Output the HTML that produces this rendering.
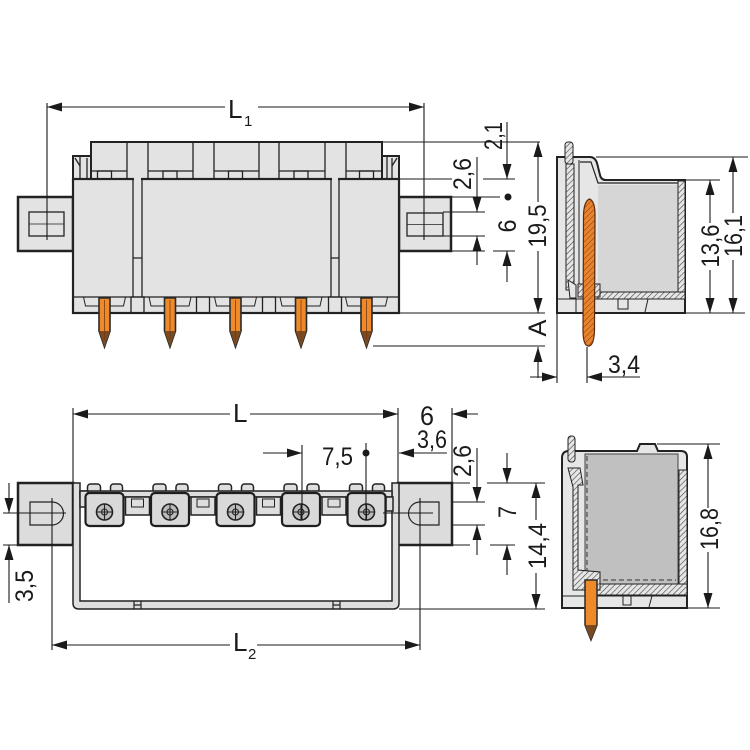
<!DOCTYPE html>
<html><head><meta charset="utf-8"><style>
html,body{margin:0;padding:0;background:#fff;}
svg{display:block;}
text{font-family:"Liberation Sans Narrow","Liberation Sans",sans-serif;fill:#1a1a1a;}
</style></head><body>
<svg width="750" height="750" viewBox="0 0 750 750" xmlns="http://www.w3.org/2000/svg">
<defs>
<marker id="a" markerWidth="16" markerHeight="10" refX="15" refY="4.5" orient="auto" markerUnits="userSpaceOnUse"><path d="M0,0 L15,4.5 L0,9 Z" fill="#1a1a1a"/></marker>
<pattern id="h" patternUnits="userSpaceOnUse" width="4" height="4" patternTransform="rotate(45)"><rect width="4" height="4" fill="#e6e6e6"/><line x1="0" y1="0" x2="0" y2="4" stroke="#444" stroke-width="1.2"/></pattern>
<pattern id="ho" patternUnits="userSpaceOnUse" width="4" height="4" patternTransform="rotate(45)"><rect width="4" height="4" fill="#e8832e"/><line x1="0" y1="0" x2="0" y2="4" stroke="#8a3a10" stroke-width="1"/></pattern>
</defs>

<!-- ================= TOP VIEW ================= -->
<g stroke="#222" fill="#e3e3e3">
<rect x="18" y="197" width="55" height="54" stroke-width="2.5"/>
<rect x="399" y="197" width="52" height="54" stroke-width="2.5"/>
<rect x="73" y="156" width="18" height="23" stroke-width="2"/>
<rect x="382" y="156" width="17" height="23" stroke-width="2"/>
<rect x="91" y="142" width="291" height="37" stroke-width="2"/>
<rect x="73" y="179" width="326" height="134" stroke-width="2.2"/>
</g>
<rect x="134" y="177" width="7" height="4" fill="#e3e3e3"/>
<rect x="332" y="177" width="6" height="4" fill="#e3e3e3"/>
<g stroke="#222" fill="none" stroke-width="1.3">
<rect x="29" y="212" width="35" height="24"/>
<line x1="29" y1="224" x2="64" y2="224" stroke-width="0.8"/>
<rect x="407" y="213" width="36" height="23"/>
<line x1="407" y1="224.5" x2="443" y2="224.5" stroke-width="0.8"/>
<line x1="80" y1="156" x2="80" y2="179"/><line x1="75" y1="158" x2="80" y2="166"/>
<line x1="87" y1="158" x2="87" y2="179"/>
<line x1="387" y1="156" x2="387" y2="179"/><line x1="392" y1="158" x2="392" y2="179"/><line x1="392" y1="166" x2="397" y2="158"/>
<path d="M127,142V179M148,142V179M193,142V179M214,142V179M259,142V179M279,142V179M325,142V179M346,142V179"/>
<path d="M91,171H127M148,171H193M214,171H259M279,171H325M346,171H382"/>
<rect x="97.5" y="171" width="14" height="8"/><rect x="163" y="171" width="14" height="8"/><rect x="228.5" y="171" width="14" height="8"/><rect x="294" y="171" width="14" height="8"/><rect x="359.5" y="171" width="14" height="8"/>
<path d="M133,179V297M142,179V297M133,258H142M331,179V297M339,179V297M331,258H339"/>
<line x1="73" y1="297" x2="399" y2="297"/>
<path stroke-width="1" d="M83.5,297 L85.5,306 H123.5 L125.5,297 M149,297 L151,306 H189 L191,297 M214.5,297 L216.5,306 H254.5 L256.5,297 M280,297 L282,306 H320 L322,297 M345.5,297 L347.5,306 H385.5 L387.5,297"/>
<rect x="131" y="297" width="13" height="16"/><rect x="196.5" y="297" width="13" height="16"/><rect x="262.5" y="297" width="13" height="16"/><rect x="328.5" y="297" width="13" height="16"/>
</g>
<!-- pins top view -->
<g stroke="#2a2a2a" stroke-width="1.6">
<path d="M99,298 V331 L104.5,347 L110,331 V298 Z" fill="#ee8a2a"/>
<path d="M164.5,298 V331 L170,347 L175.5,331 V298 Z" fill="#ee8a2a"/>
<path d="M230,298 V331 L235.5,347 L241,331 V298 Z" fill="#ee8a2a"/>
<path d="M295.5,298 V331 L301,347 L306.5,331 V298 Z" fill="#ee8a2a"/>
<path d="M361,298 V331 L366.5,347 L372,331 V298 Z" fill="#ee8a2a"/>
</g>
<g fill="#7a4a22" stroke="none">
<path d="M99,331 L104.5,347 L110,331 Z"/><path d="M164.5,331 L170,347 L175.5,331 Z"/><path d="M230,331 L235.5,347 L241,331 Z"/><path d="M295.5,331 L301,347 L306.5,331 Z"/><path d="M361,331 L366.5,347 L372,331 Z"/>
</g>
<g stroke="#7a3a10" stroke-width="0.8">
<path d="M104.5,300V340M170,300V340M235.5,300V340M301,300V340M366.5,300V340"/>
</g>

<!-- top side view -->
<path d="M557,157 H590 Q595,157 597,163 L600,175 Q601,180 606,180 H685 V313 H557 Z" fill="#e6e6e6" stroke="#222" stroke-width="2"/>
<rect x="598" y="185" width="80" height="108" fill="#d6d6d6"/>
<path d="M580,162 H591 L598,183 H678" fill="none" stroke="#222" stroke-width="1.2"/>
<rect x="678" y="181" width="7" height="118" fill="url(#h)" stroke="#222" stroke-width="1"/>
<rect x="598" y="292" width="87" height="7" fill="url(#h)" stroke="#222" stroke-width="1"/>
<rect x="565" y="142" width="8" height="22" rx="3" fill="url(#h)" stroke="#222" stroke-width="1"/>
<rect x="566" y="164" width="8" height="126" fill="url(#h)" stroke="#222" stroke-width="1"/>
<line x1="579" y1="160" x2="579" y2="285" stroke="#222" stroke-width="1"/>
<path d="M568,280 L576,285 V298 H570 Z" fill="#e6e6e6" stroke="#222" stroke-width="1"/>
<rect x="578" y="284" width="22" height="13" fill="url(#h)" stroke="#222" stroke-width="1"/>
<g stroke="#222" stroke-width="1" fill="none">
<line x1="557" y1="299" x2="685" y2="299"/>
<path d="M618,299 V309 H628 V299"/>
<line x1="648" y1="299" x2="645" y2="312"/>
<line x1="576" y1="299" x2="576" y2="313"/>
</g>
<path d="M589.5,199 Q595,201 595,215 L594.5,330 Q594,346 588.5,346 Q583,346 583,330 L583.5,215 Q584,201 589.5,199 Z" fill="url(#ho)" stroke="#5a2a0a" stroke-width="1.2"/>

<!-- ================= BOTTOM VIEW ================= -->
<g stroke="#222" fill="#dcdcdc">
<rect x="18" y="483" width="55" height="62" stroke-width="2.5"/>
<rect x="398" y="483" width="54" height="62" stroke-width="2.5"/>
<path d="M73,483 V603 Q73,609 79,609 H393 Q399,609 399,603 V483 H392 V601 H80 V483 Z" fill="#dedede" stroke-width="1.5"/>
</g>
<g stroke="#222" fill="none" stroke-width="1.2">
<path d="M30,502 H52 A11.5,11.5 0 0 1 52,525 H30 Z"/>
<path d="M439,502 H420 A11.5,11.5 0 0 0 420,525 H439 Z"/>
<path d="M134,601V609M141,601V609M134,605H141M333,601V609M340,601V609M333,605H340"/>
</g>
<!-- bumps -->
<g fill="#dedede" stroke="#222" stroke-width="1.5">
<rect x="87.5" y="484" width="13" height="9" rx="3"/><rect x="110.5" y="484" width="12" height="9" rx="3"/>
<rect x="153" y="484" width="13" height="9" rx="3"/><rect x="176" y="484" width="12" height="9" rx="3"/>
<rect x="218.5" y="484" width="13" height="9" rx="3"/><rect x="241.5" y="484" width="12" height="9" rx="3"/>
<rect x="284" y="484" width="13" height="9" rx="3"/><rect x="307" y="484" width="12" height="9" rx="3"/>
<rect x="349.5" y="484" width="13" height="9" rx="3"/><rect x="372.5" y="484" width="12" height="9" rx="3"/>
<rect x="80" y="491" width="312" height="6"/>
<rect x="80" y="491" width="8" height="16"/>
<rect x="125.5" y="497" width="24" height="18"/><rect x="191" y="497" width="24" height="18"/><rect x="256.5" y="497" width="24" height="18"/><rect x="322" y="497" width="24" height="18"/>
<rect x="386" y="497" width="7" height="14"/>
</g>
<g fill="none" stroke="#222" stroke-width="1">
<rect x="131.5" y="499" width="12" height="8"/><rect x="197" y="499" width="12" height="8"/><rect x="262.5" y="499" width="12" height="8"/><rect x="328" y="499" width="12" height="8"/>
</g>
<g fill="#d9d9d9" stroke="#1e1e1e" stroke-width="2.2">
<rect x="85.5" y="493" width="38" height="33" rx="4"/>
<rect x="151" y="493" width="38" height="33" rx="4"/>
<rect x="216.5" y="493" width="38" height="33" rx="4"/>
<rect x="282" y="493" width="38" height="33" rx="4"/>
<rect x="347.5" y="493" width="38" height="33" rx="4"/>
</g>
<g fill="#bcbcbc" stroke="#222" stroke-width="1.6">
<circle cx="104.5" cy="512" r="8"/><circle cx="170" cy="512" r="8"/><circle cx="235.5" cy="512" r="8"/><circle cx="301" cy="512" r="8"/><circle cx="366.5" cy="512" r="8"/>
</g>
<g fill="none" stroke="#222" stroke-width="1.1">
<circle cx="104.5" cy="512" r="3"/><circle cx="170" cy="512" r="3"/><circle cx="235.5" cy="512" r="3"/><circle cx="301" cy="512" r="3"/><circle cx="366.5" cy="512" r="3"/>
<path d="M96.5,512H112.5M104.5,504V520M162,512H178M170,504V520M227.5,512H243.5M235.5,504V520M293,512H309M301,504V520M358.5,512H374.5M366.5,504V520"/>
</g>

<!-- bottom side view -->
<path d="M562,608 V458 Q562,451 569,451 H637 L640,444 H655 L658,451 H681 Q687,451 687,457 V608 Z" fill="#e6e6e6" stroke="#222" stroke-width="2"/>
<rect x="585" y="454" width="93" height="132" fill="#c0c0c0" stroke="#444" stroke-width="1"/>
<g stroke="#333" stroke-width="1" stroke-dasharray="5,3" fill="none">
<line x1="587" y1="456" x2="587" y2="580"/><line x1="587" y1="580" x2="676" y2="580"/>
</g>
<rect x="679" y="470" width="8" height="125" fill="url(#h)" stroke="#222" stroke-width="1"/>
<path d="M598,584 H687 V595 H594 Z" fill="url(#h)" stroke="#222" stroke-width="1"/>
<path d="M568,468 H580 L583,485 H578 V570 L600,572 V590 H573 V487 Z" fill="url(#h)" stroke="#222" stroke-width="1"/>
<rect x="568" y="436" width="7" height="26" rx="3" fill="url(#h)" stroke="#222" stroke-width="1"/>
<g stroke="#222" stroke-width="1" fill="none">
<line x1="562" y1="596" x2="687" y2="596"/>
<path d="M623,596 V605 H631 V596"/>
<line x1="652" y1="596" x2="649" y2="607"/>
</g>
<path d="M585,580 H597 V625 L591,640 L585,625 Z" fill="#ee8a2a" stroke="#2a2a2a" stroke-width="1.5"/>
<path d="M585,625 L591,640 L597,625 Z" fill="#7a4a22"/>

<!-- ================= DIMENSIONS ================= -->
<g stroke="#1a1a1a" stroke-width="1.1" fill="none">
<line x1="47" y1="103" x2="47" y2="240"/>
<line x1="424" y1="103" x2="424" y2="240"/>
<line x1="225" y1="107" x2="47" y2="107" marker-end="url(#a)"/>
<line x1="258" y1="107" x2="424" y2="107" marker-end="url(#a)"/>
<path d="M382,142H540M399,179H452M483,179H515M451,197H500M443,212H485M443,236H485M451,251H485M493,251H515M399,313H545M373,346H545"/>
<line x1="507" y1="122" x2="507" y2="179" marker-end="url(#a)"/>
<line x1="507" y1="282" x2="507" y2="251" marker-end="url(#a)"/>
<line x1="477" y1="157" x2="477" y2="212" marker-end="url(#a)"/>
<line x1="477" y1="265" x2="477" y2="236" marker-end="url(#a)"/>
<line x1="538" y1="202" x2="538" y2="142" marker-end="url(#a)"/>
<line x1="538" y1="251" x2="538" y2="313" marker-end="url(#a)"/>
<line x1="538" y1="378" x2="538" y2="347" marker-end="url(#a)"/>
<line x1="530" y1="377" x2="557" y2="377" marker-end="url(#a)"/>
<line x1="640" y1="377" x2="587" y2="377" marker-end="url(#a)"/>
<path d="M557,313V383M587,347V383"/>
<path d="M596,157H748M685,180H720M685,313H745"/>
<line x1="710" y1="223" x2="710" y2="180" marker-end="url(#a)"/>
<line x1="710" y1="270" x2="710" y2="313" marker-end="url(#a)"/>
<line x1="733" y1="213" x2="733" y2="157" marker-end="url(#a)"/>
<line x1="733" y1="260" x2="733" y2="313" marker-end="url(#a)"/>
<path d="M73,408V483M398,408V483M452,408V483"/>
<line x1="230" y1="414" x2="73" y2="414" marker-end="url(#a)"/>
<line x1="250" y1="414" x2="398" y2="414" marker-end="url(#a)"/>
<line x1="478" y1="414" x2="452" y2="414" marker-end="url(#a)"/>
<line x1="447" y1="453" x2="399" y2="453" marker-end="url(#a)"/>
<line x1="263" y1="453" x2="302" y2="453" marker-end="url(#a)"/>
<path d="M302,445V520M366,443V520"/>
<path d="M52,498V650M420,498V650"/>
<line x1="230" y1="645" x2="52" y2="645" marker-end="url(#a)"/>
<line x1="257" y1="645" x2="420" y2="645" marker-end="url(#a)"/>
<path d="M3,513H66M383,513H433M3,545H18"/>
<line x1="9" y1="483" x2="9" y2="513" marker-end="url(#a)"/>
<line x1="9" y1="603" x2="9" y2="545" marker-end="url(#a)"/>
<path d="M452,483H470M487,483H545M452,502H485M452,525H485M452,545H470M490,545H515M399,609H545"/>
<line x1="477" y1="448" x2="477" y2="502" marker-end="url(#a)"/>
<line x1="477" y1="555" x2="477" y2="525" marker-end="url(#a)"/>
<line x1="507" y1="453" x2="507" y2="483" marker-end="url(#a)"/>
<line x1="507" y1="575" x2="507" y2="545" marker-end="url(#a)"/>
<line x1="536" y1="520" x2="536" y2="483" marker-end="url(#a)"/>
<line x1="536" y1="573" x2="536" y2="609" marker-end="url(#a)"/>
<path d="M657,444H720M688,608H720"/>
<line x1="708" y1="508" x2="708" y2="444" marker-end="url(#a)"/>
<line x1="708" y1="552" x2="708" y2="608" marker-end="url(#a)"/>
</g>
<g fill="#1a1a1a">
<circle cx="508" cy="197" r="3.5"/>
<circle cx="366" cy="453" r="3.5"/>
</g>

<text x="228" y="118" font-size="26">L</text><text x="244" y="126" font-size="15">1</text>
<text x="233" y="422" font-size="26">L</text>
<text x="233" y="651" font-size="26">L</text><text x="248" y="659" font-size="15">2</text>
<text x="608" y="373" font-size="25" textLength="32" lengthAdjust="spacingAndGlyphs">3,4</text>
<text x="420" y="425" font-size="27" textLength="14" lengthAdjust="spacingAndGlyphs">6</text>
<text x="417" y="448" font-size="25" textLength="30" lengthAdjust="spacingAndGlyphs">3,6</text>
<text x="322" y="465" font-size="25" textLength="31" lengthAdjust="spacingAndGlyphs">7,5</text>

<g font-size="25" text-anchor="middle">
<text transform="translate(502,136) rotate(-90)" textLength="28" lengthAdjust="spacingAndGlyphs">2,1</text>
<text transform="translate(471,174) rotate(-90)" textLength="32" lengthAdjust="spacingAndGlyphs">2,6</text>
<text transform="translate(516,226) rotate(-90)" textLength="13" lengthAdjust="spacingAndGlyphs">6</text>
<text transform="translate(546,226) rotate(-90)" textLength="43" lengthAdjust="spacingAndGlyphs">19,5</text>
<text transform="translate(546,328) rotate(-90)" textLength="17" lengthAdjust="spacingAndGlyphs">A</text>
<text transform="translate(719,246) rotate(-90)" textLength="43" lengthAdjust="spacingAndGlyphs">13,6</text>
<text transform="translate(742,236) rotate(-90)" textLength="42" lengthAdjust="spacingAndGlyphs">16,1</text>
<text transform="translate(471,461) rotate(-90)" textLength="32" lengthAdjust="spacingAndGlyphs">2,6</text>
<text transform="translate(516,512) rotate(-90)" textLength="12" lengthAdjust="spacingAndGlyphs">7</text>
<text transform="translate(546,546) rotate(-90)" textLength="46" lengthAdjust="spacingAndGlyphs">14,4</text>
<text transform="translate(33,586) rotate(-90)" textLength="32" lengthAdjust="spacingAndGlyphs">3,5</text>
<text transform="translate(718,529) rotate(-90)" textLength="42" lengthAdjust="spacingAndGlyphs">16,8</text>
</g>
</svg>
</body></html>
